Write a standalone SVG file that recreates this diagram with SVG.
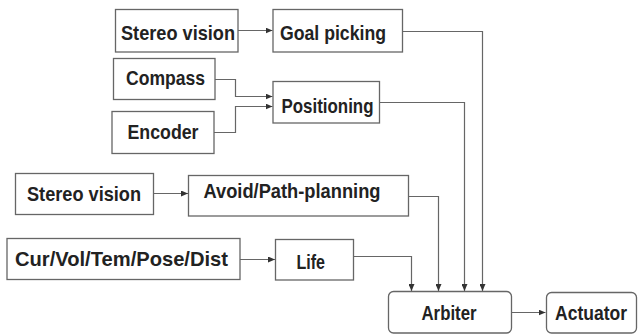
<svg xmlns="http://www.w3.org/2000/svg" width="638" height="334" viewBox="0 0 638 334">
<defs>
<marker id="ah" markerUnits="userSpaceOnUse" markerWidth="7" markerHeight="6" refX="7" refY="3" orient="auto">
<path d="M0,0 L7,3 L0,6 z" fill="#333"/>
</marker>
<style>
.box{fill:#fff;stroke:#666;stroke-width:1.3}
.t{font-family:"Liberation Sans",Arial,sans-serif;font-weight:bold;font-size:20.5px;fill:#222}
.c{fill:none;stroke:#666;stroke-width:1.2}
</style>
</defs>
<rect width="638" height="334" fill="#fff"/>
<g id="connectors">
<path class="c" d="M238,30.5 H272.5" marker-end="url(#ah)"/>
<path class="c" d="M215,79.5 H235.5 V96.5 H272.5" marker-end="url(#ah)"/>
<path class="c" d="M214,132.5 H235.5 V106.5 H272.5" marker-end="url(#ah)"/>
<path class="c" d="M153.5,193.5 H188" marker-end="url(#ah)"/>
<path class="c" d="M240,259.5 H275" marker-end="url(#ah)"/>
<path class="c" d="M402.5,31.5 H482.5 V291" marker-end="url(#ah)"/>
<path class="c" d="M379.5,102.5 H464.5 V291" marker-end="url(#ah)"/>
<path class="c" d="M408.5,196.5 H438.5 V291" marker-end="url(#ah)"/>
<path class="c" d="M353.5,256.5 H411.5 V291" marker-end="url(#ah)"/>
<path class="c" d="M512,312.5 H545.5" marker-end="url(#ah)"/>
</g>
<g id="stereo1"><rect class="box" x="115.5" y="9.5" width="122.5" height="42.5"/><text class="t" x="121" y="40" textLength="114" lengthAdjust="spacingAndGlyphs">Stereo vision</text></g>
<g id="goal"><rect class="box" x="273" y="9.5" width="129.5" height="42.5"/><text class="t" x="280" y="40" textLength="106" lengthAdjust="spacingAndGlyphs">Goal picking</text></g>
<g id="compass"><rect class="box" x="113.5" y="58.5" width="101.5" height="41"/><text class="t" x="126" y="84.5" textLength="79" lengthAdjust="spacingAndGlyphs">Compass</text></g>
<g id="encoder"><rect class="box" x="112" y="111.5" width="102" height="42"/><text class="t" x="127.5" y="138.5" textLength="71" lengthAdjust="spacingAndGlyphs">Encoder</text></g>
<g id="positioning"><rect class="box" x="273" y="81.5" width="106.5" height="41.5"/><text class="t" x="281.5" y="112.5" textLength="92" lengthAdjust="spacingAndGlyphs">Positioning</text></g>
<g id="stereo2"><rect class="box" x="15.5" y="173.5" width="138" height="41"/><text class="t" x="27" y="201" textLength="114" lengthAdjust="spacingAndGlyphs">Stereo vision</text></g>
<g id="avoid"><rect class="box" x="188.5" y="175.5" width="220" height="40.5"/><text class="t" x="203.5" y="197.5" textLength="177" lengthAdjust="spacingAndGlyphs">Avoid/Path-planning</text></g>
<g id="sensors"><rect class="box" x="7" y="238.5" width="233" height="41"/><text class="t" x="15" y="265.5" textLength="213" lengthAdjust="spacingAndGlyphs">Cur/Vol/Tem/Pose/Dist</text></g>
<g id="life"><rect class="box" x="275.5" y="239.5" width="78" height="40.5"/><text class="t" x="296.5" y="268.5" textLength="28.5" lengthAdjust="spacingAndGlyphs">Life</text></g>
<g id="arbiter"><rect class="box" x="388.5" y="291.5" width="123" height="41.5" rx="5"/><text class="t" x="421.5" y="319.5" textLength="55" lengthAdjust="spacingAndGlyphs">Arbiter</text></g>
<g id="actuator"><rect class="box" x="546.5" y="292.5" width="90" height="40.5" rx="5"/><text class="t" x="555" y="319.5" textLength="72" lengthAdjust="spacingAndGlyphs">Actuator</text></g>
</svg>
